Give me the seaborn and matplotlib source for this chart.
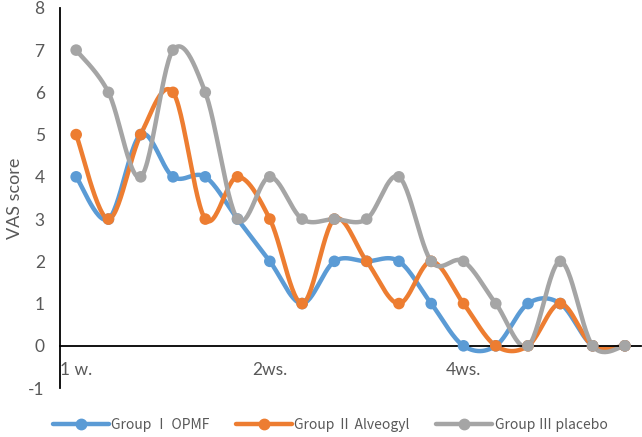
import numpy as np
import pandas as pd
import matplotlib
matplotlib.use("Agg")
import matplotlib.pyplot as plt
import seaborn as sns

# data
weeks = list(range(18))
tick_pos = [0, 6, 12]
tick_labels = ["1 w.", "2ws.", "4ws."]
opmf = [4, 3, 5, 4, 4, 3, 2, 1, 2, 2, 2, 1, 0, 0, 1, 1, 0, 0]
alveogyl = [5, 3, 5, 6, 3, 4, 3, 1, 3, 2, 1, 2, 1, 0, 0, 1, 0, 0]
placebo = [7, 6, 4, 7, 6, 3, 4, 3, 3, 3, 4, 2, 2, 1, 0, 2, 0, 0]
names = ["Group \u2160 OPMF", "Group \u2161 Alveogyl", "Group \u2162 placebo"]
colors = ["#5B9BD5", "#ED7D31", "#A5A5A5"]

sns.set_style("white")
plt.rcParams["font.family"] = ["Lato", "Noto Sans CJK SC", "DejaVu Sans"]
plt.rcParams["axes.unicode_minus"] = False


def smooth(x, y, n=30):
    # excel-like smoothed line: cubic bezier with catmull-rom style controls
    x = np.asarray(x, float); y = np.asarray(y, float)
    px = np.concatenate([[x[0]], x, [x[-1]]])
    py = np.concatenate([[y[0]], y, [y[-1]]])
    xs, ys = [], []
    t = np.linspace(0, 1, n)
    for i in range(len(x) - 1):
        p0 = np.array([px[i + 1], py[i + 1]])
        p3 = np.array([px[i + 2], py[i + 2]])
        c1 = p0 + (p3 - np.array([px[i], py[i]])) / 6
        c2 = p3 - (np.array([px[i + 3], py[i + 3]]) - p0) / 6
        b = ((1 - t) ** 3)[:, None] * p0 + (3 * (1 - t) ** 2 * t)[:, None] * c1 \
            + (3 * (1 - t) * t ** 2)[:, None] * c2 + (t ** 3)[:, None] * p3
        xs.extend(b[:, 0]); ys.extend(b[:, 1])
    return xs, ys


fig = plt.figure(figsize=(6.42, 4.37), dpi=100)
ax = fig.add_axes([0.0935, 0.112, 0.905, 0.87])

for vals, name, c in zip([opmf, alveogyl, placebo], names, colors):
    sx, sy = smooth(weeks, vals)
    sns.lineplot(x=sx, y=sy, ax=ax, color=c, lw=3.2, sort=False, estimator=None)
    ax.plot([], [], color=c, lw=3.2, marker="o", ms=7.5, label=name)
    sns.scatterplot(x=weeks, y=vals, ax=ax, color=c, s=70, edgecolor="none", zorder=3)

ax.set_xlim(-0.5, 17.5)
ax.set_ylim(-1, 8)
ax.set_yticks(range(-1, 9))
ax.set_xticks(tick_pos)
ax.set_xticklabels(tick_labels)
ax.tick_params(axis="both", length=0, labelsize=12.5, labelcolor="#595959")
ax.tick_params(axis="x", pad=12)
ax.tick_params(axis="y", pad=11)
ax.spines["bottom"].set_position(("data", 0))
for s in ["top", "right"]:
    ax.spines[s].set_visible(False)
ax.spines["left"].set_color("black")
ax.spines["bottom"].set_color("black")
ax.spines["left"].set_linewidth(1.3)
ax.spines["bottom"].set_linewidth(1.3)
ax.set_ylabel("VAS score", fontsize=13, color="#595959", labelpad=4)

ax.legend(loc="upper center", bbox_to_anchor=(0.465, -0.045), ncol=3, frameon=False,
          prop={"family": ["Noto Sans CJK SC"], "size": 10},
          handlelength=4.0, handletextpad=0.2, columnspacing=1.9,
          labelcolor="#595959")

fig.savefig("out.png", dpi=100)
